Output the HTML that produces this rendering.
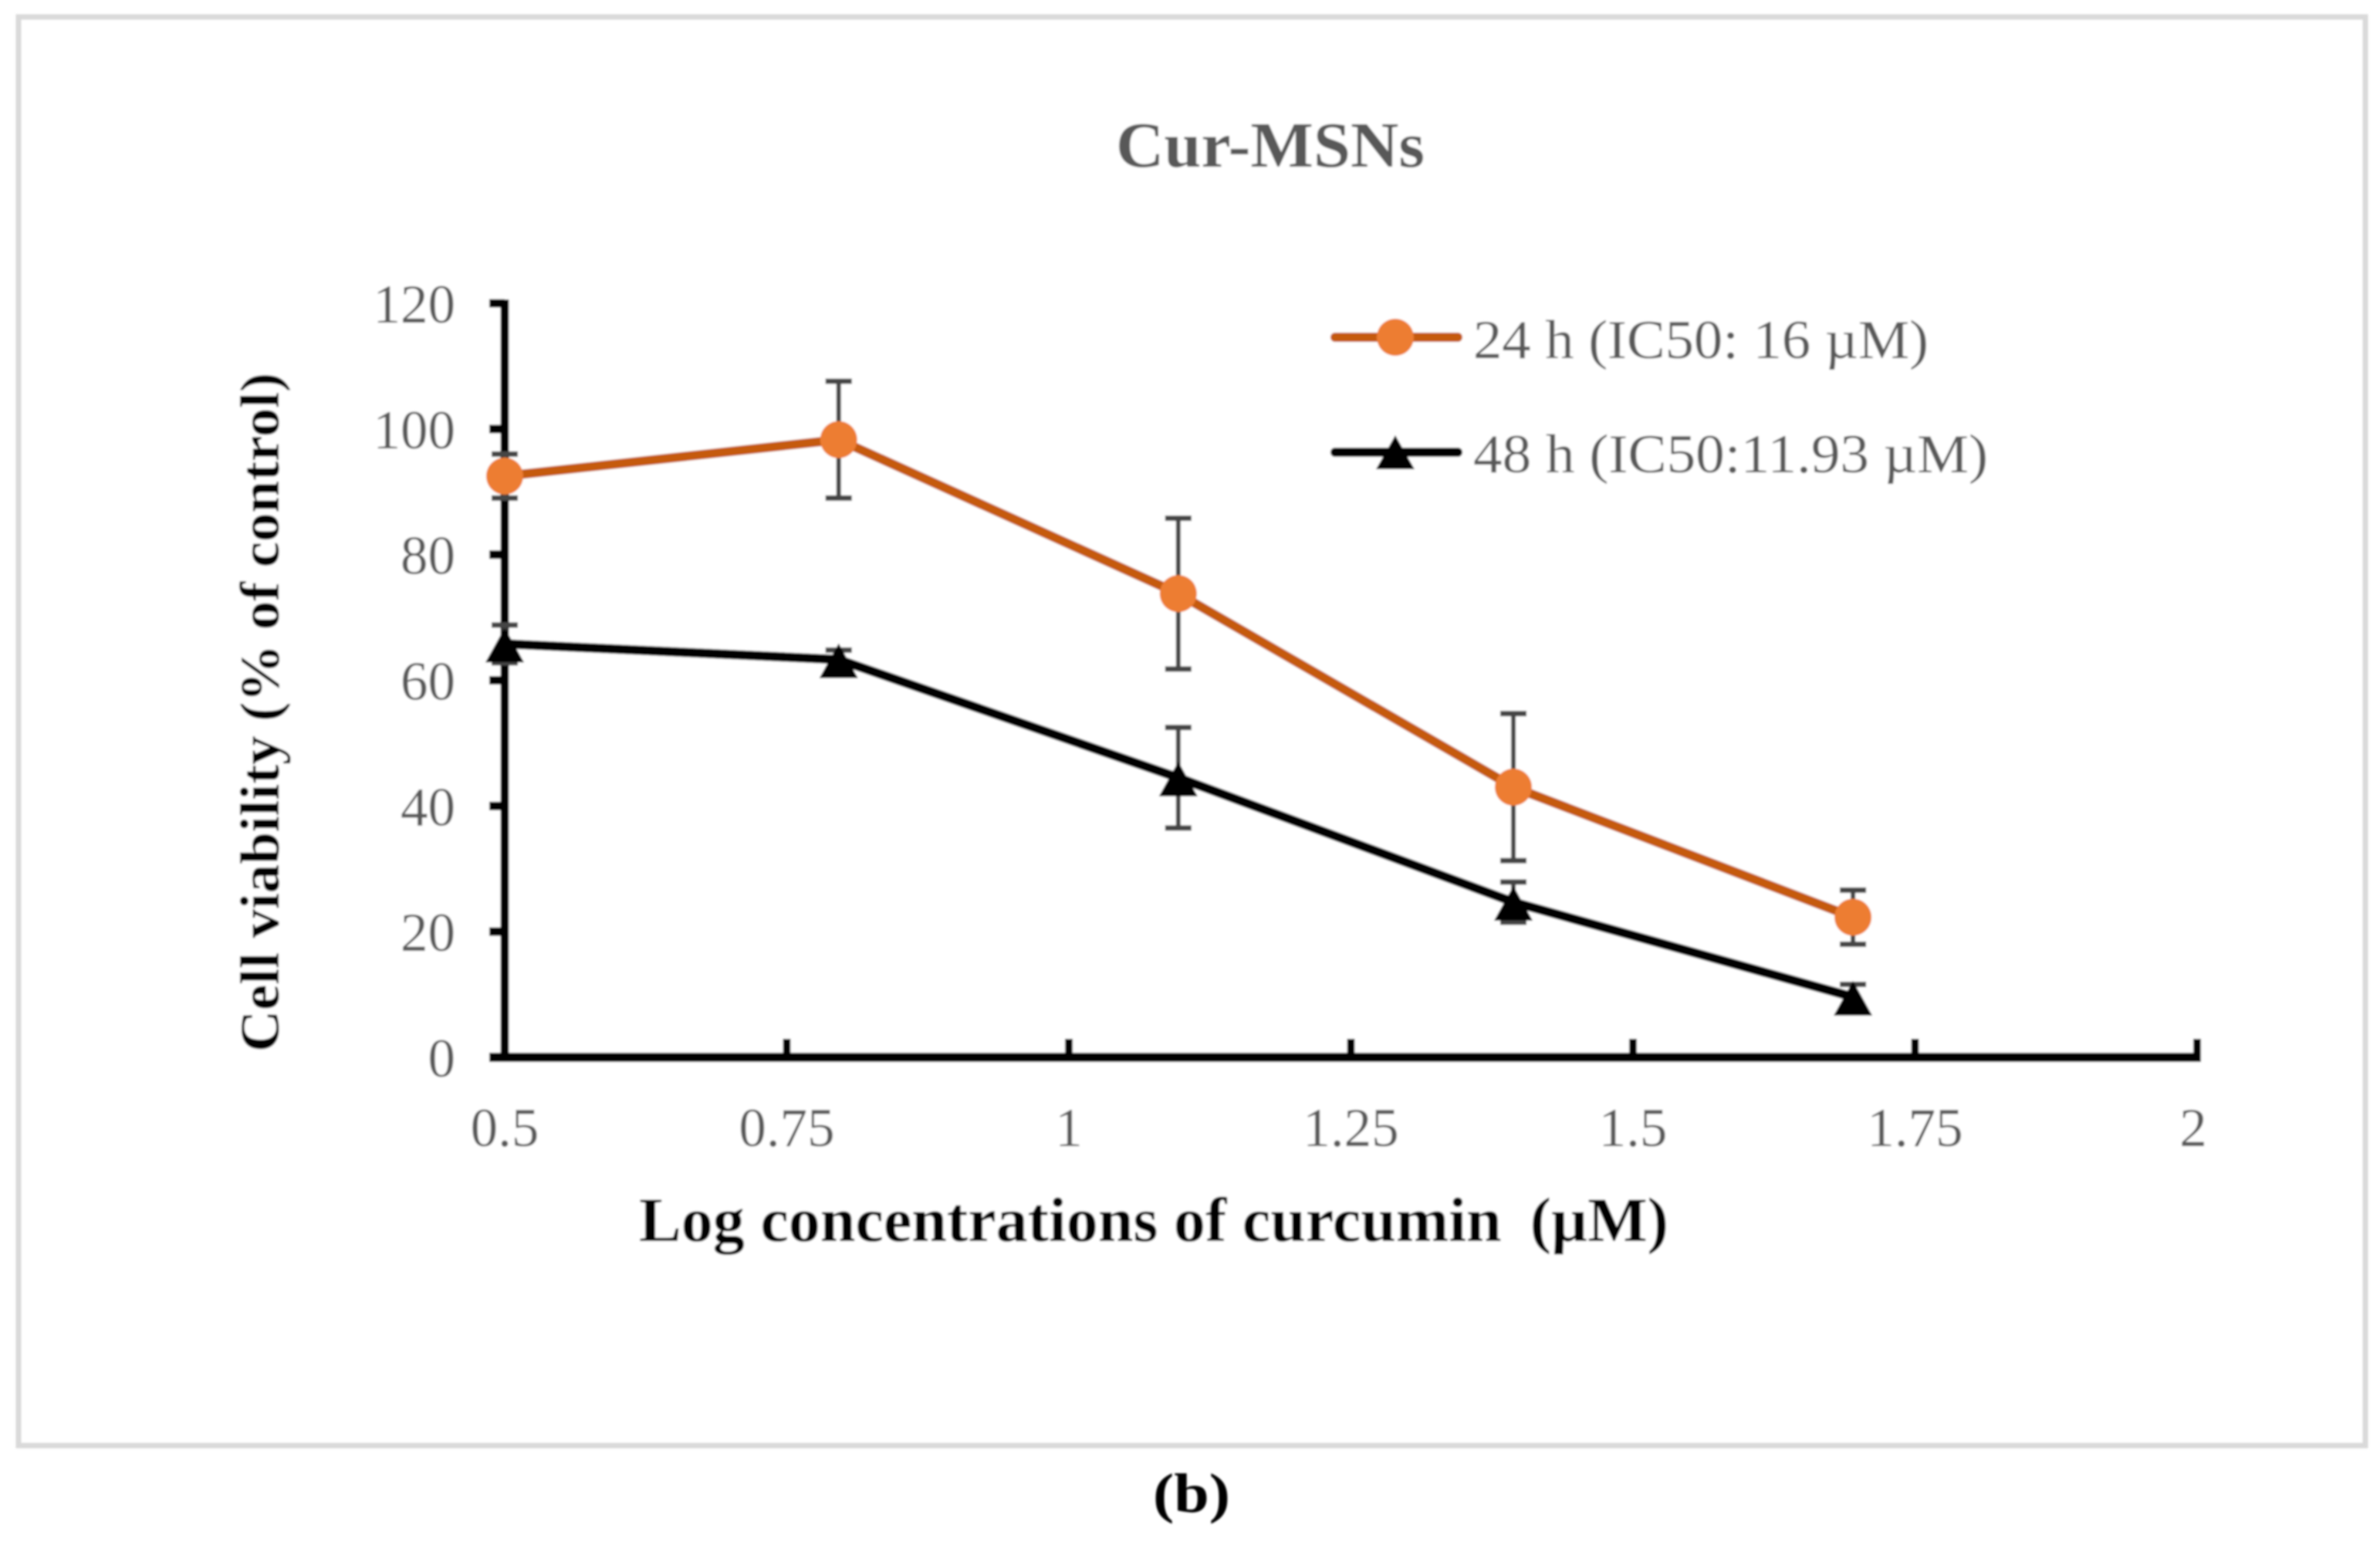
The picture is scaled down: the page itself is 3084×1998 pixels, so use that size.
<!DOCTYPE html>
<html lang="en">
<head>
<meta charset="utf-8">
<title>Cur-MSNs cell viability chart</title>
<style>
html,body{margin:0;padding:0;background:#fff;}
svg{display:block;}
text{font-family:"Liberation Serif",serif;white-space:pre;}
.tick{fill:#595959;font-size:71px;}
.legend{fill:#595959;font-size:71px;}
.bold{font-weight:bold;fill:#000;}
</style>
</head>
<body>
<svg id="chart" xmlns="http://www.w3.org/2000/svg" width="3084" height="1998" viewBox="0 0 3084 1998">
  <defs>
    <filter id="soft" x="-5%" y="-5%" width="110%" height="110%"><feGaussianBlur stdDeviation="1.4"/></filter>
  </defs>
  <rect x="0" y="0" width="3084" height="1998" fill="#fff"/>
  <g id="root" filter="url(#soft)">
    <rect x="24" y="22" width="3041" height="1851" fill="#fff" stroke="#d9d9d9" stroke-width="7"/>
    <text x="1446" y="216" font-size="84" font-weight="bold" fill="#595959" textLength="400" lengthAdjust="spacingAndGlyphs">Cur-MSNs</text>
    <text class="bold" transform="translate(361,1363) rotate(-90)" font-size="72" textLength="880" lengthAdjust="spacingAndGlyphs">Cell viability (% of control)</text>
    <text class="bold" x="828" y="1608" font-size="82" textLength="1334" lengthAdjust="spacingAndGlyphs">Log concentrations of curcumin &#8201;(µM)</text>
    <text class="bold" x="1494" y="1959" font-size="72" textLength="100" lengthAdjust="spacingAndGlyphs">(b)</text>

    <g id="axes"></g>
    <g id="series"></g>

    <g>
      <g>
        <line x1="1730" y1="437" x2="1889" y2="437" stroke="#c55a11" stroke-width="12" stroke-linecap="round"/>
        <circle cx="1808" cy="437" r="24" fill="#ed7d31"/>
        <text class="legend" x="1909" y="464" textLength="590" lengthAdjust="spacingAndGlyphs">24 h (IC50: 16 µM)</text>
      </g>
      <g>
        <line x1="1730" y1="586" x2="1889" y2="586" stroke="#000" stroke-width="12" stroke-linecap="round"/>
        <polygon points="1808,564 1833,608 1783,608" fill="#000"/>
        <text class="legend" x="1909" y="612" textLength="667" lengthAdjust="spacingAndGlyphs">48 h (IC50:11.93 µM)</text>
      </g>
    </g>
  </g>
</svg>
<script>
const xTickLabels = ["0.5", "0.75", "1", "1.25", "1.5", "1.75", "2"];
const xTickValues = [0.5, 0.75, 1, 1.25, 1.5, 1.75, 2];
const yTickValues = [0, 20, 40, 60, 80, 100, 120];
const concentrations = [0.5, 0.796, 1.097, 1.394, 1.695];
const viability24h = [92.5, 98.3, 73.8, 43, 22.3];
const error24h = [3.5, 9.3, 12, 11.7, 4.3];
const viability48h = [65.8, 63.3, 44.5, 24.7, 9.6];
const error48h = [3, 1.5, 8, 3.2, 2];

const NS = "http://www.w3.org/2000/svg";
function xPos(v) { return 654 + (v - 0.5) * (2847 - 654) / 1.5; }
function yPos(v) { return 1370 - v * (1370 - 393) / 120; }
function mk(parent, tag, attrs, text) {
  const el = document.createElementNS(NS, tag);
  for (const k in attrs) el.setAttribute(k, attrs[k]);
  if (text !== undefined) el.textContent = text;
  parent.appendChild(el);
  return el;
}

const axes = document.getElementById("axes");
const seriesRoot = document.getElementById("series");

const yAxisLine = mk(axes, "line", { x1: xPos(0.5), y1: yPos(120) - 5, x2: xPos(0.5), y2: yPos(0), stroke: "#000", "stroke-width": 11 });



const xAxisLine = mk(axes, "line", { x1: xPos(0.5) - 20, y1: yPos(0), x2: xPos(2) + 5, y2: yPos(0), stroke: "#000", "stroke-width": 12 });



yTickValues.forEach(function (v) {
  const t = mk(axes, "line", { x1: xPos(0.5) - 20, y1: yPos(v), x2: xPos(0.5), y2: yPos(v), stroke: "#000", "stroke-width": 11 });
  
  
  const l = mk(axes, "text", { class: "tick", "text-anchor": "end", x: 590, y: yPos(v) + 25 }, String(v));
  
  
});

xTickValues.forEach(function (v, i) {
  const t = mk(axes, "line", { x1: xPos(v), y1: yPos(0) - 24, x2: xPos(v), y2: yPos(0), stroke: "#000", "stroke-width": 10 });
  
  
  const l = mk(axes, "text", { class: "tick", "text-anchor": "middle", x: xPos(v) - (i === 6 ? 5 : 0), y: 1485 }, xTickLabels[i]);
  
  
});

function drawErrorBars(values, errors, name) {
  values.forEach(function (v, i) {
    const x = xPos(concentrations[i]);
    const top = yPos(v + errors[i]);
    const bottom = yPos(v - errors[i]);
    const stem = mk(seriesRoot, "line", { x1: x, y1: top, x2: x, y2: bottom, stroke: "#444", "stroke-width": 6 });
    
    
    const capTop = mk(seriesRoot, "line", { x1: x - 17, y1: top, x2: x + 17, y2: top, stroke: "#444", "stroke-width": 7 });
    
    
    const capBottom = mk(seriesRoot, "line", { x1: x - 17, y1: bottom, x2: x + 17, y2: bottom, stroke: "#444", "stroke-width": 7 });
    
    
  });
}

function linePoints(values) {
  return values.map(function (v, i) { return xPos(concentrations[i]) + "," + yPos(v); }).join(" ");
}

drawErrorBars(viability24h, error24h, "series-24h");
drawErrorBars(viability48h, error48h, "series-48h");

const line24 = mk(seriesRoot, "polyline", { points: linePoints(viability24h), fill: "none", stroke: "#c55a11", "stroke-width": 12, "stroke-linejoin": "round" });



const line48 = mk(seriesRoot, "polyline", { points: linePoints(viability48h), fill: "none", stroke: "#000", "stroke-width": 12, "stroke-linejoin": "round" });



viability24h.forEach(function (v, i) {
  const c = mk(seriesRoot, "circle", { cx: xPos(concentrations[i]), cy: yPos(v), r: 24, fill: "#ed7d31" });
  
  
});

viability48h.forEach(function (v, i) {
  const x = xPos(concentrations[i]);
  const y = yPos(v);
  const p = mk(seriesRoot, "polygon", { points: x + "," + (y - 21) + " " + (x + 25) + "," + (y + 24) + " " + (x - 25) + "," + (y + 24), fill: "#000" });
  
  
});
</script>
</body>
</html>
